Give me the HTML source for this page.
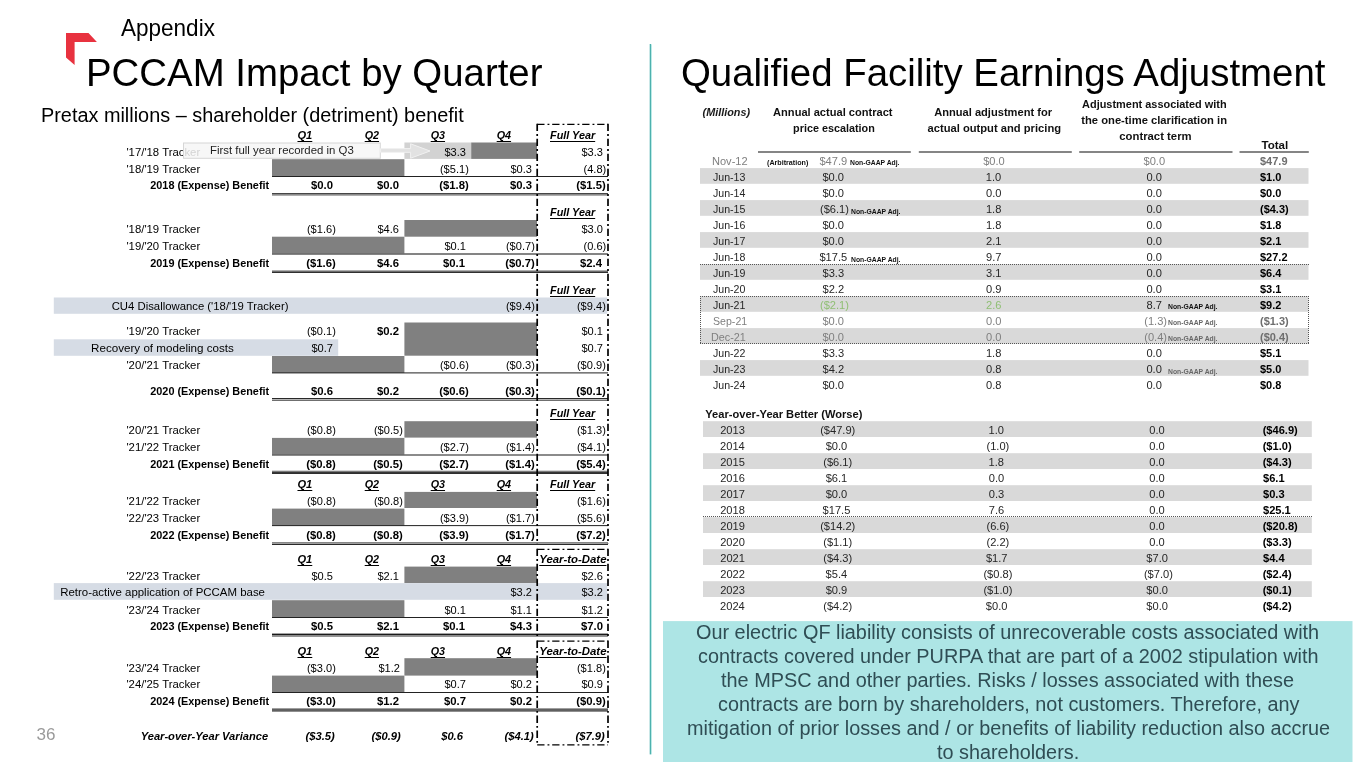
<!DOCTYPE html>
<html lang="en"><head><meta charset="utf-8"><title>PCCAM Impact by Quarter</title>
<style>
html,body{margin:0;padding:0;background:#fff}
body{width:1365px;height:768px;position:relative;overflow:hidden;font-family:"Liberation Sans",sans-serif}
#s{position:absolute;left:0;top:0;width:1365px;height:768px;overflow:hidden;background:#fff}
#s>*{position:absolute}
.t{line-height:20px;white-space:nowrap;display:block;color:#000}
</style></head>
<body><div id="s">
<svg style="left:0;top:0" width="1365" height="768" viewBox="0 0 1365 768">
<polygon points="66,33.1 88.5,33.1 96.9,41.9 74.6,41.9 74.6,65 66,57.5" fill="#e8323f"/>
<rect x="649.7" y="44" width="1.3" height="710.4" fill="#4db1ae"/>
<rect x="651" y="44.3" width="0.6" height="710.1" fill="#8fdcd8"/>
<rect x="404.4" y="142.5" width="66.8" height="16.4" fill="#d2d2d2"/>
<rect x="471.2" y="142.5" width="65.8" height="16.4" fill="#808080"/>
<rect x="272" y="159.2" width="132.4" height="17" fill="#808080"/>
<rect x="272" y="176" width="336" height="1" fill="#222"/>
<rect x="272" y="193.2" width="336" height="1.2" fill="#1a1a1a"/>
<rect x="272" y="194.4" width="336" height="1.2" fill="#7a7a7a"/>
<rect x="404.4" y="220" width="132.6" height="16.7" fill="#808080"/>
<rect x="272" y="236.7" width="132.4" height="17.1" fill="#808080"/>
<rect x="272" y="253.2" width="336" height="1.6" fill="#666"/>
<rect x="272" y="270.4" width="336" height="1.12" fill="#7a7a7a"/>
<rect x="272" y="271.52" width="336" height="1.38" fill="#1a1a1a"/>
<rect x="53.8" y="297.5" width="553.4" height="16.3" fill="#d6dce5"/>
<rect x="404.4" y="322.5" width="132.6" height="33.2" fill="#808080"/>
<rect x="53.8" y="339.3" width="284.4" height="16.5" fill="#d6dce5"/>
<rect x="272" y="356" width="132.4" height="17" fill="#808080"/>
<rect x="272" y="372.4" width="336" height="1" fill="#222"/>
<rect x="272" y="398.1" width="336" height="0.9" fill="#111"/>
<rect x="272" y="399.7" width="336" height="0.9" fill="#111"/>
<rect x="404.4" y="421.2" width="132.6" height="16.4" fill="#808080"/>
<rect x="272" y="437.9" width="132.4" height="17.1" fill="#808080"/>
<rect x="272" y="454.25" width="336" height="1.5" fill="#666"/>
<rect x="272" y="470.7" width="336" height="1.44" fill="#7a7a7a"/>
<rect x="272" y="472.14" width="336" height="1.76" fill="#1a1a1a"/>
<rect x="404.4" y="491.9" width="132.6" height="16.1" fill="#808080"/>
<rect x="272" y="508.6" width="132.4" height="17" fill="#808080"/>
<rect x="272" y="525.1" width="336" height="1" fill="#222"/>
<rect x="272" y="542.5" width="336" height="0.9" fill="#111"/>
<rect x="272" y="544.1" width="336" height="0.9" fill="#111"/>
<rect x="404.4" y="566.6" width="132.6" height="16.4" fill="#808080"/>
<rect x="53.8" y="583.1" width="553.4" height="16.7" fill="#d6dce5"/>
<rect x="272" y="600.2" width="132.4" height="17.1" fill="#808080"/>
<rect x="272" y="617" width="336" height="1" fill="#222"/>
<rect x="272" y="633.6" width="336" height="1.6" fill="#1a1a1a"/>
<rect x="272" y="635.2" width="336" height="1.6" fill="#7a7a7a"/>
<rect x="404.4" y="658.2" width="132.6" height="17.4" fill="#808080"/>
<rect x="272" y="675.6" width="132.4" height="16.7" fill="#808080"/>
<rect x="272" y="692" width="336" height="1" fill="#222"/>
<rect x="272" y="708.4" width="336" height="3.3" fill="#606060"/>
<rect x="758" y="151.35" width="152.8" height="1.3" fill="#444"/>
<rect x="918.8" y="151.35" width="153" height="1.3" fill="#444"/>
<rect x="1079.2" y="151.35" width="153.3" height="1.3" fill="#444"/>
<rect x="1239.5" y="151.35" width="69.3" height="1.3" fill="#444"/>
<rect x="700" y="168.1" width="608.5" height="15.7" fill="#d9d9d9"/>
<rect x="700" y="200.1" width="608.5" height="15.7" fill="#d9d9d9"/>
<rect x="700" y="232.1" width="608.5" height="15.7" fill="#d9d9d9"/>
<rect x="700" y="264.1" width="608.5" height="15.7" fill="#d9d9d9"/>
<rect x="700" y="296.1" width="608.5" height="15.7" fill="#d9d9d9"/>
<rect x="700" y="328.1" width="608.5" height="15.7" fill="#d9d9d9"/>
<rect x="700" y="360.1" width="608.5" height="15.7" fill="#d9d9d9"/>
<rect x="703" y="421.2" width="608.8" height="15.8" fill="#d9d9d9"/>
<rect x="703" y="453.2" width="608.8" height="15.8" fill="#d9d9d9"/>
<rect x="703" y="485.2" width="608.8" height="15.8" fill="#d9d9d9"/>
<rect x="703" y="517.2" width="608.8" height="15.8" fill="#d9d9d9"/>
<rect x="703" y="549.2" width="608.8" height="15.8" fill="#d9d9d9"/>
<rect x="703" y="581.2" width="608.8" height="15.8" fill="#d9d9d9"/>
<rect x="663" y="621.1" width="689.5" height="140.9" fill="#ade5e5"/>
</svg>
<span class="t" style="top:18px;font-size:23.4px;left:121.2px;transform-origin:0 0;transform:scaleX(0.9626);">Appendix</span>
<span class="t" style="top:63px;font-size:37.9px;left:85.63px;transform-origin:0 0;transform:scaleX(1.0131);">PCCAM Impact by Quarter</span>
<span class="t" style="top:105px;font-size:19.91px;left:41.41px;transform-origin:0 0;transform:scaleX(0.9976);">Pretax millions – shareholder (detriment) benefit</span>
<span class="t" style="top:63px;font-size:37.9px;left:680.87px;transform-origin:0 0;transform:scaleX(1.0132);">Qualified Facility Earnings Adjustment</span>
<span class="t" style="top:725px;font-size:17.07px;color:#9a9a9a;left:36.52px;transform-origin:0 0;">36</span>
<span class="t" style="top:125px;font-size:11.8px;font-weight:bold;font-style:italic;text-decoration:underline;text-underline-offset:2px;text-decoration-thickness:1px;left:296.92px;transform-origin:50% 0;transform:scaleX(0.9401);">Q1</span>
<span class="t" style="top:125px;font-size:11.8px;font-weight:bold;font-style:italic;text-decoration:underline;text-underline-offset:2px;text-decoration-thickness:1px;left:363.71px;transform-origin:50% 0;transform:scaleX(0.9106);">Q2</span>
<span class="t" style="top:125px;font-size:11.8px;font-weight:bold;font-style:italic;text-decoration:underline;text-underline-offset:2px;text-decoration-thickness:1px;left:429.91px;transform-origin:50% 0;transform:scaleX(0.9106);">Q3</span>
<span class="t" style="top:125px;font-size:11.8px;font-weight:bold;font-style:italic;text-decoration:underline;text-underline-offset:2px;text-decoration-thickness:1px;left:496.34px;transform-origin:50% 0;transform:scaleX(0.9142);">Q4</span>
<span class="t" style="top:125px;font-size:11.8px;font-weight:bold;font-style:italic;text-decoration:underline;text-underline-offset:2px;text-decoration-thickness:1px;left:547.77px;transform-origin:50% 0;transform:scaleX(0.9181);">Full Year</span>
<span class="t" style="top:142px;font-size:11.8px;left:124.85px;transform-origin:50% 0;transform:scaleX(0.9630);">'17/'18 Tracker</span>
<span class="t" style="top:142px;font-size:11.8px;right:899.44px;transform-origin:100% 0;transform:scaleX(0.9370);">$3.3</span>
<span class="t" style="top:142px;font-size:11.8px;right:762.39px;transform-origin:100% 0;transform:scaleX(0.9370);">$3.3</span>
<span class="t" style="top:159px;font-size:11.8px;left:124.85px;transform-origin:50% 0;transform:scaleX(0.9630);">'18/'19 Tracker</span>
<span class="t" style="top:159px;font-size:11.8px;right:896.11px;transform-origin:100% 0;transform:scaleX(0.9370);">($5.1)</span>
<span class="t" style="top:159px;font-size:11.8px;right:833.04px;transform-origin:100% 0;transform:scaleX(0.9370);">$0.3</span>
<span class="t" style="top:159px;font-size:11.8px;right:759.07px;transform-origin:100% 0;transform:scaleX(0.9370);">(4.8)</span>
<span class="t" style="top:175px;font-size:11.8px;font-weight:bold;right:1095.45px;transform-origin:100% 0;transform:scaleX(0.9205);">2018 (Expense) Benefit</span>
<span class="t" style="top:175px;font-size:11.8px;font-weight:bold;right:1032.13px;transform-origin:100% 0;transform:scaleX(0.9600);">$0.0</span>
<span class="t" style="top:175px;font-size:11.8px;font-weight:bold;right:965.63px;transform-origin:100% 0;transform:scaleX(0.9600);">$0.0</span>
<span class="t" style="top:175px;font-size:11.8px;font-weight:bold;right:896.26px;transform-origin:100% 0;transform:scaleX(0.9600);">($1.8)</span>
<span class="t" style="top:175px;font-size:11.8px;font-weight:bold;right:833.09px;transform-origin:100% 0;transform:scaleX(0.9600);">$0.3</span>
<span class="t" style="top:175px;font-size:11.8px;font-weight:bold;right:759.21px;transform-origin:100% 0;transform:scaleX(0.9600);">($1.5)</span>
<svg style="left:180px;top:140px" width="260" height="24" viewBox="180 140 260 24"><rect x="183.5" y="143" width="196.8" height="15.3" fill="#f6f6f6" fill-opacity="0.85" stroke="#d6d6d6" stroke-width="1"/><polygon points="380.6,148.6 410.6,148.6 410.6,143.8 430,151 410.6,158.2 410.6,152.3 380.6,152.3" fill="#e2e2e2" stroke="#f1f1f1" stroke-width="1"/></svg>
<span class="t" style="top:140px;font-size:11.8px;color:#222;left:209.69px;transform-origin:0 0;transform:scaleX(0.9658);">First full year recorded in Q3</span>
<span class="t" style="top:202px;font-size:11.8px;font-weight:bold;font-style:italic;text-decoration:underline;text-underline-offset:2px;text-decoration-thickness:1px;left:547.77px;transform-origin:50% 0;transform:scaleX(0.9181);">Full Year</span>
<span class="t" style="top:219px;font-size:11.8px;left:124.85px;transform-origin:50% 0;transform:scaleX(0.9630);">'18/'19 Tracker</span>
<span class="t" style="top:219px;font-size:11.8px;right:1028.81px;transform-origin:100% 0;transform:scaleX(0.9370);">($1.6)</span>
<span class="t" style="top:219px;font-size:11.8px;right:965.64px;transform-origin:100% 0;transform:scaleX(0.9370);">$4.6</span>
<span class="t" style="top:219px;font-size:11.8px;right:762.45px;transform-origin:100% 0;transform:scaleX(0.9370);">$3.0</span>
<span class="t" style="top:236px;font-size:11.8px;left:124.85px;transform-origin:50% 0;transform:scaleX(0.9630);">'19/'20 Tracker</span>
<span class="t" style="top:236px;font-size:11.8px;right:899.39px;transform-origin:100% 0;transform:scaleX(0.9370);">$0.1</span>
<span class="t" style="top:236px;font-size:11.8px;right:829.71px;transform-origin:100% 0;transform:scaleX(0.9370);">($0.7)</span>
<span class="t" style="top:236px;font-size:11.8px;right:759.07px;transform-origin:100% 0;transform:scaleX(0.9370);">(0.6)</span>
<span class="t" style="top:253px;font-size:11.8px;font-weight:bold;right:1095.45px;transform-origin:100% 0;transform:scaleX(0.9205);">2019 (Expense) Benefit</span>
<span class="t" style="top:253px;font-size:11.8px;font-weight:bold;right:1028.96px;transform-origin:100% 0;transform:scaleX(0.9600);">($1.6)</span>
<span class="t" style="top:253px;font-size:11.8px;font-weight:bold;right:965.69px;transform-origin:100% 0;transform:scaleX(0.9600);">$4.6</span>
<span class="t" style="top:253px;font-size:11.8px;font-weight:bold;right:899.6px;transform-origin:100% 0;transform:scaleX(0.9600);">$0.1</span>
<span class="t" style="top:253px;font-size:11.8px;font-weight:bold;right:829.86px;transform-origin:100% 0;transform:scaleX(0.9600);">($0.7)</span>
<span class="t" style="top:253px;font-size:11.8px;font-weight:bold;right:762.78px;transform-origin:100% 0;transform:scaleX(0.9600);">$2.4</span>
<span class="t" style="top:280px;font-size:11.8px;font-weight:bold;font-style:italic;text-decoration:underline;text-underline-offset:2px;text-decoration-thickness:1px;left:547.77px;transform-origin:50% 0;transform:scaleX(0.9181);">Full Year</span>
<span class="t" style="top:296px;font-size:11.8px;left:107.79px;transform-origin:50% 0;transform:scaleX(0.9599);">CU4 Disallowance ('18/'19 Tracker)</span>
<span class="t" style="top:296px;font-size:11.8px;right:829.71px;transform-origin:100% 0;transform:scaleX(0.9370);">($9.4)</span>
<span class="t" style="top:296px;font-size:11.8px;right:759.06px;transform-origin:100% 0;transform:scaleX(0.9370);">($9.4)</span>
<span class="t" style="top:321px;font-size:11.8px;left:124.85px;transform-origin:50% 0;transform:scaleX(0.9630);">'19/'20 Tracker</span>
<span class="t" style="top:321px;font-size:11.8px;right:1028.81px;transform-origin:100% 0;transform:scaleX(0.9370);">($0.1)</span>
<span class="t" style="top:321px;font-size:11.8px;font-weight:bold;right:965.63px;transform-origin:100% 0;transform:scaleX(0.9600);">$0.2</span>
<span class="t" style="top:321px;font-size:11.8px;right:762.34px;transform-origin:100% 0;transform:scaleX(0.9370);">$0.1</span>
<span class="t" style="top:338px;font-size:11.8px;left:89.76px;transform-origin:50% 0;transform:scaleX(0.9853);">Recovery of modeling costs</span>
<span class="t" style="top:338px;font-size:11.8px;right:1032.03px;transform-origin:100% 0;transform:scaleX(0.9370);">$0.7</span>
<span class="t" style="top:338px;font-size:11.8px;right:762.28px;transform-origin:100% 0;transform:scaleX(0.9370);">$0.7</span>
<span class="t" style="top:355px;font-size:11.8px;left:124.85px;transform-origin:50% 0;transform:scaleX(0.9630);">'20/'21 Tracker</span>
<span class="t" style="top:355px;font-size:11.8px;right:896.11px;transform-origin:100% 0;transform:scaleX(0.9370);">($0.6)</span>
<span class="t" style="top:355px;font-size:11.8px;right:829.71px;transform-origin:100% 0;transform:scaleX(0.9370);">($0.3)</span>
<span class="t" style="top:355px;font-size:11.8px;right:759.06px;transform-origin:100% 0;transform:scaleX(0.9370);">($0.9)</span>
<span class="t" style="top:381px;font-size:11.8px;font-weight:bold;right:1095.45px;transform-origin:100% 0;transform:scaleX(0.9205);">2020 (Expense) Benefit</span>
<span class="t" style="top:381px;font-size:11.8px;font-weight:bold;right:1032.19px;transform-origin:100% 0;transform:scaleX(0.9600);">$0.6</span>
<span class="t" style="top:381px;font-size:11.8px;font-weight:bold;right:965.63px;transform-origin:100% 0;transform:scaleX(0.9600);">$0.2</span>
<span class="t" style="top:381px;font-size:11.8px;font-weight:bold;right:896.26px;transform-origin:100% 0;transform:scaleX(0.9600);">($0.6)</span>
<span class="t" style="top:381px;font-size:11.8px;font-weight:bold;right:829.86px;transform-origin:100% 0;transform:scaleX(0.9600);">($0.3)</span>
<span class="t" style="top:381px;font-size:11.8px;font-weight:bold;right:759.21px;transform-origin:100% 0;transform:scaleX(0.9600);">($0.1)</span>
<span class="t" style="top:403px;font-size:11.8px;font-weight:bold;font-style:italic;text-decoration:underline;text-underline-offset:2px;text-decoration-thickness:1px;left:547.77px;transform-origin:50% 0;transform:scaleX(0.9181);">Full Year</span>
<span class="t" style="top:420px;font-size:11.8px;left:124.85px;transform-origin:50% 0;transform:scaleX(0.9630);">'20/'21 Tracker</span>
<span class="t" style="top:420px;font-size:11.8px;right:1028.81px;transform-origin:100% 0;transform:scaleX(0.9370);">($0.8)</span>
<span class="t" style="top:420px;font-size:11.8px;right:962.31px;transform-origin:100% 0;transform:scaleX(0.9370);">($0.5)</span>
<span class="t" style="top:420px;font-size:11.8px;right:759.06px;transform-origin:100% 0;transform:scaleX(0.9370);">($1.3)</span>
<span class="t" style="top:437px;font-size:11.8px;left:124.85px;transform-origin:50% 0;transform:scaleX(0.9630);">'21/'22 Tracker</span>
<span class="t" style="top:437px;font-size:11.8px;right:896.11px;transform-origin:100% 0;transform:scaleX(0.9370);">($2.7)</span>
<span class="t" style="top:437px;font-size:11.8px;right:829.71px;transform-origin:100% 0;transform:scaleX(0.9370);">($1.4)</span>
<span class="t" style="top:437px;font-size:11.8px;right:759.06px;transform-origin:100% 0;transform:scaleX(0.9370);">($4.1)</span>
<span class="t" style="top:454px;font-size:11.8px;font-weight:bold;right:1095.45px;transform-origin:100% 0;transform:scaleX(0.9205);">2021 (Expense) Benefit</span>
<span class="t" style="top:454px;font-size:11.8px;font-weight:bold;right:1028.96px;transform-origin:100% 0;transform:scaleX(0.9600);">($0.8)</span>
<span class="t" style="top:454px;font-size:11.8px;font-weight:bold;right:962.46px;transform-origin:100% 0;transform:scaleX(0.9600);">($0.5)</span>
<span class="t" style="top:454px;font-size:11.8px;font-weight:bold;right:896.26px;transform-origin:100% 0;transform:scaleX(0.9600);">($2.7)</span>
<span class="t" style="top:454px;font-size:11.8px;font-weight:bold;right:829.86px;transform-origin:100% 0;transform:scaleX(0.9600);">($1.4)</span>
<span class="t" style="top:454px;font-size:11.8px;font-weight:bold;right:759.21px;transform-origin:100% 0;transform:scaleX(0.9600);">($5.4)</span>
<span class="t" style="top:474px;font-size:11.8px;font-weight:bold;font-style:italic;text-decoration:underline;text-underline-offset:2px;text-decoration-thickness:1px;left:296.92px;transform-origin:50% 0;transform:scaleX(0.9401);">Q1</span>
<span class="t" style="top:474px;font-size:11.8px;font-weight:bold;font-style:italic;text-decoration:underline;text-underline-offset:2px;text-decoration-thickness:1px;left:363.71px;transform-origin:50% 0;transform:scaleX(0.9106);">Q2</span>
<span class="t" style="top:474px;font-size:11.8px;font-weight:bold;font-style:italic;text-decoration:underline;text-underline-offset:2px;text-decoration-thickness:1px;left:429.91px;transform-origin:50% 0;transform:scaleX(0.9106);">Q3</span>
<span class="t" style="top:474px;font-size:11.8px;font-weight:bold;font-style:italic;text-decoration:underline;text-underline-offset:2px;text-decoration-thickness:1px;left:496.34px;transform-origin:50% 0;transform:scaleX(0.9142);">Q4</span>
<span class="t" style="top:474px;font-size:11.8px;font-weight:bold;font-style:italic;text-decoration:underline;text-underline-offset:2px;text-decoration-thickness:1px;left:547.77px;transform-origin:50% 0;transform:scaleX(0.9181);">Full Year</span>
<span class="t" style="top:491px;font-size:11.8px;left:124.85px;transform-origin:50% 0;transform:scaleX(0.9630);">'21/'22 Tracker</span>
<span class="t" style="top:491px;font-size:11.8px;right:1028.81px;transform-origin:100% 0;transform:scaleX(0.9370);">($0.8)</span>
<span class="t" style="top:491px;font-size:11.8px;right:962.31px;transform-origin:100% 0;transform:scaleX(0.9370);">($0.8)</span>
<span class="t" style="top:491px;font-size:11.8px;right:759.06px;transform-origin:100% 0;transform:scaleX(0.9370);">($1.6)</span>
<span class="t" style="top:508px;font-size:11.8px;left:124.85px;transform-origin:50% 0;transform:scaleX(0.9630);">'22/'23 Tracker</span>
<span class="t" style="top:508px;font-size:11.8px;right:896.11px;transform-origin:100% 0;transform:scaleX(0.9370);">($3.9)</span>
<span class="t" style="top:508px;font-size:11.8px;right:829.71px;transform-origin:100% 0;transform:scaleX(0.9370);">($1.7)</span>
<span class="t" style="top:508px;font-size:11.8px;right:759.06px;transform-origin:100% 0;transform:scaleX(0.9370);">($5.6)</span>
<span class="t" style="top:525px;font-size:11.8px;font-weight:bold;right:1095.45px;transform-origin:100% 0;transform:scaleX(0.9205);">2022 (Expense) Benefit</span>
<span class="t" style="top:525px;font-size:11.8px;font-weight:bold;right:1028.96px;transform-origin:100% 0;transform:scaleX(0.9600);">($0.8)</span>
<span class="t" style="top:525px;font-size:11.8px;font-weight:bold;right:962.46px;transform-origin:100% 0;transform:scaleX(0.9600);">($0.8)</span>
<span class="t" style="top:525px;font-size:11.8px;font-weight:bold;right:896.26px;transform-origin:100% 0;transform:scaleX(0.9600);">($3.9)</span>
<span class="t" style="top:525px;font-size:11.8px;font-weight:bold;right:829.86px;transform-origin:100% 0;transform:scaleX(0.9600);">($1.7)</span>
<span class="t" style="top:525px;font-size:11.8px;font-weight:bold;right:759.21px;transform-origin:100% 0;transform:scaleX(0.9600);">($7.2)</span>
<span class="t" style="top:549px;font-size:11.8px;font-weight:bold;font-style:italic;text-decoration:underline;text-underline-offset:2px;text-decoration-thickness:1px;left:296.92px;transform-origin:50% 0;transform:scaleX(0.9401);">Q1</span>
<span class="t" style="top:549px;font-size:11.8px;font-weight:bold;font-style:italic;text-decoration:underline;text-underline-offset:2px;text-decoration-thickness:1px;left:363.71px;transform-origin:50% 0;transform:scaleX(0.9106);">Q2</span>
<span class="t" style="top:549px;font-size:11.8px;font-weight:bold;font-style:italic;text-decoration:underline;text-underline-offset:2px;text-decoration-thickness:1px;left:429.91px;transform-origin:50% 0;transform:scaleX(0.9106);">Q3</span>
<span class="t" style="top:549px;font-size:11.8px;font-weight:bold;font-style:italic;text-decoration:underline;text-underline-offset:2px;text-decoration-thickness:1px;left:496.34px;transform-origin:50% 0;transform:scaleX(0.9142);">Q4</span>
<span class="t" style="top:549px;font-size:11.8px;font-weight:bold;font-style:italic;text-decoration:underline;text-underline-offset:2px;text-decoration-thickness:1px;left:537.79px;transform-origin:50% 0;transform:scaleX(0.9643);">Year-to-Date</span>
<span class="t" style="top:566px;font-size:11.8px;left:124.85px;transform-origin:50% 0;transform:scaleX(0.9630);">'22/'23 Tracker</span>
<span class="t" style="top:566px;font-size:11.8px;right:1032.14px;transform-origin:100% 0;transform:scaleX(0.9370);">$0.5</span>
<span class="t" style="top:566px;font-size:11.8px;right:965.59px;transform-origin:100% 0;transform:scaleX(0.9370);">$2.1</span>
<span class="t" style="top:566px;font-size:11.8px;right:762.39px;transform-origin:100% 0;transform:scaleX(0.9370);">$2.6</span>
<span class="t" style="top:582px;font-size:11.8px;left:56.69px;transform-origin:50% 0;transform:scaleX(0.9702);">Retro-active application of PCCAM base</span>
<span class="t" style="top:582px;font-size:11.8px;right:832.93px;transform-origin:100% 0;transform:scaleX(0.9370);">$3.2</span>
<span class="t" style="top:582px;font-size:11.8px;right:762.28px;transform-origin:100% 0;transform:scaleX(0.9370);">$3.2</span>
<span class="t" style="top:600px;font-size:11.8px;left:124.85px;transform-origin:50% 0;transform:scaleX(0.9630);">'23/'24 Tracker</span>
<span class="t" style="top:600px;font-size:11.8px;right:899.39px;transform-origin:100% 0;transform:scaleX(0.9370);">$0.1</span>
<span class="t" style="top:600px;font-size:11.8px;right:832.99px;transform-origin:100% 0;transform:scaleX(0.9370);">$1.1</span>
<span class="t" style="top:600px;font-size:11.8px;right:762.28px;transform-origin:100% 0;transform:scaleX(0.9370);">$1.2</span>
<span class="t" style="top:616px;font-size:11.8px;font-weight:bold;right:1095.45px;transform-origin:100% 0;transform:scaleX(0.9205);">2023 (Expense) Benefit</span>
<span class="t" style="top:616px;font-size:11.8px;font-weight:bold;right:1032.3px;transform-origin:100% 0;transform:scaleX(0.9600);">$0.5</span>
<span class="t" style="top:616px;font-size:11.8px;font-weight:bold;right:965.8px;transform-origin:100% 0;transform:scaleX(0.9600);">$2.1</span>
<span class="t" style="top:616px;font-size:11.8px;font-weight:bold;right:899.6px;transform-origin:100% 0;transform:scaleX(0.9600);">$0.1</span>
<span class="t" style="top:616px;font-size:11.8px;font-weight:bold;right:833.09px;transform-origin:100% 0;transform:scaleX(0.9600);">$4.3</span>
<span class="t" style="top:616px;font-size:11.8px;font-weight:bold;right:762.38px;transform-origin:100% 0;transform:scaleX(0.9600);">$7.0</span>
<span class="t" style="top:641px;font-size:11.8px;font-weight:bold;font-style:italic;text-decoration:underline;text-underline-offset:2px;text-decoration-thickness:1px;left:296.92px;transform-origin:50% 0;transform:scaleX(0.9401);">Q1</span>
<span class="t" style="top:641px;font-size:11.8px;font-weight:bold;font-style:italic;text-decoration:underline;text-underline-offset:2px;text-decoration-thickness:1px;left:363.71px;transform-origin:50% 0;transform:scaleX(0.9106);">Q2</span>
<span class="t" style="top:641px;font-size:11.8px;font-weight:bold;font-style:italic;text-decoration:underline;text-underline-offset:2px;text-decoration-thickness:1px;left:429.91px;transform-origin:50% 0;transform:scaleX(0.9106);">Q3</span>
<span class="t" style="top:641px;font-size:11.8px;font-weight:bold;font-style:italic;text-decoration:underline;text-underline-offset:2px;text-decoration-thickness:1px;left:496.34px;transform-origin:50% 0;transform:scaleX(0.9142);">Q4</span>
<span class="t" style="top:641px;font-size:11.8px;font-weight:bold;font-style:italic;text-decoration:underline;text-underline-offset:2px;text-decoration-thickness:1px;left:537.79px;transform-origin:50% 0;transform:scaleX(0.9643);">Year-to-Date</span>
<span class="t" style="top:658px;font-size:11.8px;left:124.85px;transform-origin:50% 0;transform:scaleX(0.9630);">'23/'24 Tracker</span>
<span class="t" style="top:658px;font-size:11.8px;right:1028.81px;transform-origin:100% 0;transform:scaleX(0.9370);">($3.0)</span>
<span class="t" style="top:658px;font-size:11.8px;right:965.53px;transform-origin:100% 0;transform:scaleX(0.9370);">$1.2</span>
<span class="t" style="top:658px;font-size:11.8px;right:759.06px;transform-origin:100% 0;transform:scaleX(0.9370);">($1.8)</span>
<span class="t" style="top:674px;font-size:11.8px;left:124.85px;transform-origin:50% 0;transform:scaleX(0.9630);">'24/'25 Tracker</span>
<span class="t" style="top:674px;font-size:11.8px;right:899.33px;transform-origin:100% 0;transform:scaleX(0.9370);">$0.7</span>
<span class="t" style="top:674px;font-size:11.8px;right:832.93px;transform-origin:100% 0;transform:scaleX(0.9370);">$0.2</span>
<span class="t" style="top:674px;font-size:11.8px;right:762.34px;transform-origin:100% 0;transform:scaleX(0.9370);">$0.9</span>
<span class="t" style="top:691px;font-size:11.8px;font-weight:bold;right:1095.45px;transform-origin:100% 0;transform:scaleX(0.9205);">2024 (Expense) Benefit</span>
<span class="t" style="top:691px;font-size:11.8px;font-weight:bold;right:1028.96px;transform-origin:100% 0;transform:scaleX(0.9600);">($3.0)</span>
<span class="t" style="top:691px;font-size:11.8px;font-weight:bold;right:965.63px;transform-origin:100% 0;transform:scaleX(0.9600);">$1.2</span>
<span class="t" style="top:691px;font-size:11.8px;font-weight:bold;right:899.43px;transform-origin:100% 0;transform:scaleX(0.9600);">$0.7</span>
<span class="t" style="top:691px;font-size:11.8px;font-weight:bold;right:833.03px;transform-origin:100% 0;transform:scaleX(0.9600);">$0.2</span>
<span class="t" style="top:691px;font-size:11.8px;font-weight:bold;right:759.21px;transform-origin:100% 0;transform:scaleX(0.9600);">($0.9)</span>
<span class="t" style="top:726px;font-size:11.8px;font-weight:bold;font-style:italic;right:1096.71px;transform-origin:100% 0;transform:scaleX(0.9431);">Year-over-Year Variance</span>
<span class="t" style="top:726px;font-size:11.8px;font-weight:bold;font-style:italic;right:1030.49px;transform-origin:100% 0;transform:scaleX(0.9500);">($3.5)</span>
<span class="t" style="top:726px;font-size:11.8px;font-weight:bold;font-style:italic;right:964.19px;transform-origin:100% 0;transform:scaleX(0.9500);">($0.9)</span>
<span class="t" style="top:726px;font-size:11.8px;font-weight:bold;font-style:italic;right:901.64px;transform-origin:100% 0;transform:scaleX(0.9500);">$0.6</span>
<span class="t" style="top:726px;font-size:11.8px;font-weight:bold;font-style:italic;right:831.19px;transform-origin:100% 0;transform:scaleX(0.9500);">($4.1)</span>
<span class="t" style="top:726px;font-size:11.8px;font-weight:bold;font-style:italic;right:760.29px;transform-origin:100% 0;transform:scaleX(0.9500);">($7.9)</span>
<span class="t" style="top:102px;font-size:11.1px;color:#1a1a1a;font-weight:bold;font-style:italic;left:701.61px;transform-origin:50% 0;transform:scaleX(0.9769);">(Millions)</span>
<span class="t" style="top:102px;font-size:11.1px;color:#111;font-weight:bold;left:772.72px;transform-origin:50% 0;transform:scaleX(0.9982);">Annual actual contract</span>
<span class="t" style="top:118px;font-size:11.1px;color:#111;font-weight:bold;left:792.02px;transform-origin:50% 0;transform:scaleX(0.9742);">price escalation</span>
<span class="t" style="top:102px;font-size:11.1px;color:#111;font-weight:bold;left:934.26px;transform-origin:50% 0;">Annual adjustment for</span>
<span class="t" style="top:118px;font-size:11.1px;color:#111;font-weight:bold;left:928.4px;transform-origin:50% 0;transform:scaleX(1.0081);">actual output and pricing</span>
<span class="t" style="top:94px;font-size:11.1px;color:#111;font-weight:bold;left:1081.09px;transform-origin:50% 0;transform:scaleX(0.9852);">Adjustment associated with</span>
<span class="t" style="top:110px;font-size:11.1px;color:#111;font-weight:bold;left:1081.83px;transform-origin:50% 0;transform:scaleX(1.0103);">the one-time clarification in</span>
<span class="t" style="top:126px;font-size:11.1px;color:#111;font-weight:bold;left:1120.25px;transform-origin:50% 0;transform:scaleX(1.0198);">contract term</span>
<span class="t" style="top:135px;font-size:11.1px;color:#111;font-weight:bold;left:1261.6px;transform-origin:50% 0;transform:scaleX(1.0400);">Total</span>
<span class="t" style="top:151px;font-size:11.1px;color:#7f7f7f;left:711.52px;transform-origin:0 0;transform:scaleX(0.9960);">Nov-12</span>
<span class="t" style="top:151px;font-size:11.1px;color:#7f7f7f;left:819.42px;transform-origin:50% 0;">$47.9</span>
<span class="t" style="top:151px;font-size:11.1px;color:#7f7f7f;left:983.14px;transform-origin:50% 0;">$0.0</span>
<span class="t" style="top:151px;font-size:11.1px;color:#7f7f7f;left:1143.54px;transform-origin:50% 0;">$0.0</span>
<span class="t" style="top:151px;font-size:11.1px;color:#6e6e6e;font-weight:bold;left:1260.24px;transform-origin:0 0;transform:scaleX(0.9900);">$47.9</span>
<span class="t" style="top:167px;font-size:11.1px;color:#262626;left:713.14px;transform-origin:0 0;transform:scaleX(0.9550);">Jun-13</span>
<span class="t" style="top:167px;font-size:11.1px;color:#262626;left:822.44px;transform-origin:50% 0;">$0.0</span>
<span class="t" style="top:167px;font-size:11.1px;color:#262626;left:985.86px;transform-origin:50% 0;">1.0</span>
<span class="t" style="top:167px;font-size:11.1px;color:#262626;left:1146.46px;transform-origin:50% 0;">0.0</span>
<span class="t" style="top:167px;font-size:11.1px;font-weight:bold;left:1260.24px;transform-origin:0 0;transform:scaleX(0.9900);">$1.0</span>
<span class="t" style="top:183px;font-size:11.1px;color:#262626;left:713.14px;transform-origin:0 0;transform:scaleX(0.9550);">Jun-14</span>
<span class="t" style="top:183px;font-size:11.1px;color:#262626;left:822.44px;transform-origin:50% 0;">$0.0</span>
<span class="t" style="top:183px;font-size:11.1px;color:#262626;left:986.06px;transform-origin:50% 0;">0.0</span>
<span class="t" style="top:183px;font-size:11.1px;color:#262626;left:1146.46px;transform-origin:50% 0;">0.0</span>
<span class="t" style="top:183px;font-size:11.1px;font-weight:bold;left:1260.24px;transform-origin:0 0;transform:scaleX(0.9900);">$0.0</span>
<span class="t" style="top:199px;font-size:11.1px;color:#262626;left:713.14px;transform-origin:0 0;transform:scaleX(0.9550);">Jun-15</span>
<span class="t" style="top:199px;font-size:11.1px;color:#262626;left:820.01px;transform-origin:50% 0;">($6.1)</span>
<span class="t" style="top:199px;font-size:11.1px;color:#262626;left:985.89px;transform-origin:50% 0;">1.8</span>
<span class="t" style="top:199px;font-size:11.1px;color:#262626;left:1146.46px;transform-origin:50% 0;">0.0</span>
<span class="t" style="top:199px;font-size:11.1px;font-weight:bold;left:1259.85px;transform-origin:0 0;transform:scaleX(0.9900);">($4.3)</span>
<span class="t" style="top:215px;font-size:11.1px;color:#262626;left:713.14px;transform-origin:0 0;transform:scaleX(0.9550);">Jun-16</span>
<span class="t" style="top:215px;font-size:11.1px;color:#262626;left:822.44px;transform-origin:50% 0;">$0.0</span>
<span class="t" style="top:215px;font-size:11.1px;color:#262626;left:985.89px;transform-origin:50% 0;">1.8</span>
<span class="t" style="top:215px;font-size:11.1px;color:#262626;left:1146.46px;transform-origin:50% 0;">0.0</span>
<span class="t" style="top:215px;font-size:11.1px;font-weight:bold;left:1260.24px;transform-origin:0 0;transform:scaleX(0.9900);">$1.8</span>
<span class="t" style="top:231px;font-size:11.1px;color:#262626;left:713.14px;transform-origin:0 0;transform:scaleX(0.9550);">Jun-17</span>
<span class="t" style="top:231px;font-size:11.1px;color:#262626;left:822.44px;transform-origin:50% 0;">$0.0</span>
<span class="t" style="top:231px;font-size:11.1px;color:#262626;left:986.06px;transform-origin:50% 0;">2.1</span>
<span class="t" style="top:231px;font-size:11.1px;color:#262626;left:1146.46px;transform-origin:50% 0;">0.0</span>
<span class="t" style="top:231px;font-size:11.1px;font-weight:bold;left:1260.24px;transform-origin:0 0;transform:scaleX(0.9900);">$2.1</span>
<span class="t" style="top:247px;font-size:11.1px;color:#262626;left:713.14px;transform-origin:0 0;transform:scaleX(0.9550);">Jun-18</span>
<span class="t" style="top:247px;font-size:11.1px;color:#262626;left:819.39px;transform-origin:50% 0;">$17.5</span>
<span class="t" style="top:247px;font-size:11.1px;color:#262626;left:986.11px;transform-origin:50% 0;">9.7</span>
<span class="t" style="top:247px;font-size:11.1px;color:#262626;left:1146.46px;transform-origin:50% 0;">0.0</span>
<span class="t" style="top:247px;font-size:11.1px;font-weight:bold;left:1260.24px;transform-origin:0 0;transform:scaleX(0.9900);">$27.2</span>
<span class="t" style="top:263px;font-size:11.1px;color:#262626;left:713.14px;transform-origin:0 0;transform:scaleX(0.9550);">Jun-19</span>
<span class="t" style="top:263px;font-size:11.1px;color:#262626;left:822.47px;transform-origin:50% 0;">$3.3</span>
<span class="t" style="top:263px;font-size:11.1px;color:#262626;left:986.11px;transform-origin:50% 0;">3.1</span>
<span class="t" style="top:263px;font-size:11.1px;color:#262626;left:1146.46px;transform-origin:50% 0;">0.0</span>
<span class="t" style="top:263px;font-size:11.1px;font-weight:bold;left:1260.24px;transform-origin:0 0;transform:scaleX(0.9900);">$6.4</span>
<span class="t" style="top:279px;font-size:11.1px;color:#262626;left:713.14px;transform-origin:0 0;transform:scaleX(0.9550);">Jun-20</span>
<span class="t" style="top:279px;font-size:11.1px;color:#262626;left:822.53px;transform-origin:50% 0;">$2.2</span>
<span class="t" style="top:279px;font-size:11.1px;color:#262626;left:986.11px;transform-origin:50% 0;">0.9</span>
<span class="t" style="top:279px;font-size:11.1px;color:#262626;left:1146.46px;transform-origin:50% 0;">0.0</span>
<span class="t" style="top:279px;font-size:11.1px;font-weight:bold;left:1260.24px;transform-origin:0 0;transform:scaleX(0.9900);">$3.1</span>
<span class="t" style="top:295px;font-size:11.1px;color:#262626;left:713.14px;transform-origin:0 0;transform:scaleX(0.9550);">Jun-21</span>
<span class="t" style="top:295px;font-size:11.1px;color:#8fbf73;left:820.01px;transform-origin:50% 0;">($2.1)</span>
<span class="t" style="top:295px;font-size:11.1px;color:#8fbf73;left:986.03px;transform-origin:50% 0;">2.6</span>
<span class="t" style="top:295px;font-size:11.1px;color:#262626;left:1146.54px;transform-origin:50% 0;">8.7</span>
<span class="t" style="top:295px;font-size:11.1px;font-weight:bold;left:1260.24px;transform-origin:0 0;transform:scaleX(0.9900);">$9.2</span>
<span class="t" style="top:311px;font-size:11.1px;color:#7f7f7f;left:712.52px;transform-origin:0 0;transform:scaleX(0.9550);">Sep-21</span>
<span class="t" style="top:311px;font-size:11.1px;color:#7f7f7f;left:822.44px;transform-origin:50% 0;">$0.0</span>
<span class="t" style="top:311px;font-size:11.1px;color:#7f7f7f;left:986.06px;transform-origin:50% 0;">0.0</span>
<span class="t" style="top:311px;font-size:11.1px;color:#7f7f7f;left:1144.19px;transform-origin:50% 0;">(1.3)</span>
<span class="t" style="top:311px;font-size:11.1px;color:#6e6e6e;font-weight:bold;left:1259.85px;transform-origin:0 0;transform:scaleX(0.9900);">($1.3)</span>
<span class="t" style="top:327px;font-size:11.1px;color:#7f7f7f;left:711.23px;transform-origin:0 0;transform:scaleX(0.9750);">Dec-21</span>
<span class="t" style="top:327px;font-size:11.1px;color:#7f7f7f;left:822.44px;transform-origin:50% 0;">$0.0</span>
<span class="t" style="top:327px;font-size:11.1px;color:#7f7f7f;left:986.06px;transform-origin:50% 0;">0.0</span>
<span class="t" style="top:327px;font-size:11.1px;color:#7f7f7f;left:1144.19px;transform-origin:50% 0;">(0.4)</span>
<span class="t" style="top:327px;font-size:11.1px;color:#6e6e6e;font-weight:bold;left:1259.85px;transform-origin:0 0;transform:scaleX(0.9900);">($0.4)</span>
<span class="t" style="top:343px;font-size:11.1px;color:#262626;left:713.14px;transform-origin:0 0;transform:scaleX(0.9550);">Jun-22</span>
<span class="t" style="top:343px;font-size:11.1px;color:#262626;left:822.47px;transform-origin:50% 0;">$3.3</span>
<span class="t" style="top:343px;font-size:11.1px;color:#262626;left:985.89px;transform-origin:50% 0;">1.8</span>
<span class="t" style="top:343px;font-size:11.1px;color:#262626;left:1146.46px;transform-origin:50% 0;">0.0</span>
<span class="t" style="top:343px;font-size:11.1px;font-weight:bold;left:1260.24px;transform-origin:0 0;transform:scaleX(0.9900);">$5.1</span>
<span class="t" style="top:359px;font-size:11.1px;color:#262626;left:713.14px;transform-origin:0 0;transform:scaleX(0.9550);">Jun-23</span>
<span class="t" style="top:359px;font-size:11.1px;color:#262626;left:822.53px;transform-origin:50% 0;">$4.2</span>
<span class="t" style="top:359px;font-size:11.1px;color:#262626;left:986.09px;transform-origin:50% 0;">0.8</span>
<span class="t" style="top:359px;font-size:11.1px;color:#262626;left:1146.46px;transform-origin:50% 0;">0.0</span>
<span class="t" style="top:359px;font-size:11.1px;font-weight:bold;left:1260.24px;transform-origin:0 0;transform:scaleX(0.9900);">$5.0</span>
<span class="t" style="top:375px;font-size:11.1px;color:#262626;left:713.14px;transform-origin:0 0;transform:scaleX(0.9550);">Jun-24</span>
<span class="t" style="top:375px;font-size:11.1px;color:#262626;left:822.44px;transform-origin:50% 0;">$0.0</span>
<span class="t" style="top:375px;font-size:11.1px;color:#262626;left:986.09px;transform-origin:50% 0;">0.8</span>
<span class="t" style="top:375px;font-size:11.1px;color:#262626;left:1146.46px;transform-origin:50% 0;">0.0</span>
<span class="t" style="top:375px;font-size:11.1px;font-weight:bold;left:1260.24px;transform-origin:0 0;transform:scaleX(0.9900);">$0.8</span>
<span class="t" style="top:153px;font-size:7px;color:#111;font-weight:bold;left:766.54px;transform-origin:0 0;transform:scaleX(1.0211);">(Arbitration)</span>
<span class="t" style="top:153px;font-size:7px;color:#111;font-weight:bold;left:849.86px;transform-origin:0 0;transform:scaleX(0.9717);">Non-GAAP Adj.</span>
<span class="t" style="top:202px;font-size:7px;color:#111;font-weight:bold;left:851.46px;transform-origin:0 0;transform:scaleX(0.9717);">Non-GAAP Adj.</span>
<span class="t" style="top:250px;font-size:7px;color:#111;font-weight:bold;left:851.46px;transform-origin:0 0;transform:scaleX(0.9717);">Non-GAAP Adj.</span>
<span class="t" style="top:297px;font-size:7px;color:#111;font-weight:bold;left:1167.66px;transform-origin:0 0;transform:scaleX(0.9717);">Non-GAAP Adj.</span>
<span class="t" style="top:313px;font-size:7px;color:#666;font-weight:bold;left:1168.26px;transform-origin:0 0;transform:scaleX(0.9717);">Non-GAAP Adj.</span>
<span class="t" style="top:329px;font-size:7px;color:#666;font-weight:bold;left:1168.26px;transform-origin:0 0;transform:scaleX(0.9717);">Non-GAAP Adj.</span>
<span class="t" style="top:362px;font-size:7px;color:#666;font-weight:bold;left:1168.26px;transform-origin:0 0;transform:scaleX(0.9717);">Non-GAAP Adj.</span>
<span class="t" style="top:404px;font-size:11.1px;color:#111;font-weight:bold;left:705.33px;transform-origin:0 0;">Year-over-Year Better (Worse)</span>
<span class="t" style="top:420px;font-size:11.1px;color:#262626;left:720.2px;transform-origin:50% 0;">2013</span>
<span class="t" style="top:420px;font-size:11.1px;color:#262626;left:820.13px;transform-origin:50% 0;">($47.9)</span>
<span class="t" style="top:420px;font-size:11.1px;color:#262626;left:988.56px;transform-origin:50% 0;">1.0</span>
<span class="t" style="top:420px;font-size:11.1px;color:#262626;left:1149.26px;transform-origin:50% 0;">0.0</span>
<span class="t" style="top:420px;font-size:11.1px;font-weight:bold;left:1262.64px;transform-origin:0 0;">($46.9)</span>
<span class="t" style="top:436px;font-size:11.1px;color:#262626;left:720.11px;transform-origin:50% 0;">2014</span>
<span class="t" style="top:436px;font-size:11.1px;color:#262626;left:825.64px;transform-origin:50% 0;">$0.0</span>
<span class="t" style="top:436px;font-size:11.1px;color:#262626;left:986.49px;transform-origin:50% 0;">(1.0)</span>
<span class="t" style="top:436px;font-size:11.1px;color:#262626;left:1149.26px;transform-origin:50% 0;">0.0</span>
<span class="t" style="top:436px;font-size:11.1px;font-weight:bold;left:1262.64px;transform-origin:0 0;">($1.0)</span>
<span class="t" style="top:452px;font-size:11.1px;color:#262626;left:720.2px;transform-origin:50% 0;">2015</span>
<span class="t" style="top:452px;font-size:11.1px;color:#262626;left:823.21px;transform-origin:50% 0;">($6.1)</span>
<span class="t" style="top:452px;font-size:11.1px;color:#262626;left:988.59px;transform-origin:50% 0;">1.8</span>
<span class="t" style="top:452px;font-size:11.1px;color:#262626;left:1149.26px;transform-origin:50% 0;">0.0</span>
<span class="t" style="top:452px;font-size:11.1px;font-weight:bold;left:1262.64px;transform-origin:0 0;">($4.3)</span>
<span class="t" style="top:468px;font-size:11.1px;color:#262626;left:720.2px;transform-origin:50% 0;">2016</span>
<span class="t" style="top:468px;font-size:11.1px;color:#262626;left:825.7px;transform-origin:50% 0;">$6.1</span>
<span class="t" style="top:468px;font-size:11.1px;color:#262626;left:988.76px;transform-origin:50% 0;">0.0</span>
<span class="t" style="top:468px;font-size:11.1px;color:#262626;left:1149.26px;transform-origin:50% 0;">0.0</span>
<span class="t" style="top:468px;font-size:11.1px;font-weight:bold;left:1263.03px;transform-origin:0 0;">$6.1</span>
<span class="t" style="top:484px;font-size:11.1px;color:#262626;left:720.25px;transform-origin:50% 0;">2017</span>
<span class="t" style="top:484px;font-size:11.1px;color:#262626;left:825.64px;transform-origin:50% 0;">$0.0</span>
<span class="t" style="top:484px;font-size:11.1px;color:#262626;left:988.79px;transform-origin:50% 0;">0.3</span>
<span class="t" style="top:484px;font-size:11.1px;color:#262626;left:1149.26px;transform-origin:50% 0;">0.0</span>
<span class="t" style="top:484px;font-size:11.1px;font-weight:bold;left:1263.03px;transform-origin:0 0;">$0.3</span>
<span class="t" style="top:500px;font-size:11.1px;color:#262626;left:720.2px;transform-origin:50% 0;">2018</span>
<span class="t" style="top:500px;font-size:11.1px;color:#262626;left:822.59px;transform-origin:50% 0;">$17.5</span>
<span class="t" style="top:500px;font-size:11.1px;color:#262626;left:988.73px;transform-origin:50% 0;">7.6</span>
<span class="t" style="top:500px;font-size:11.1px;color:#262626;left:1149.26px;transform-origin:50% 0;">0.0</span>
<span class="t" style="top:500px;font-size:11.1px;font-weight:bold;left:1263.03px;transform-origin:0 0;">$25.1</span>
<span class="t" style="top:516px;font-size:11.1px;color:#262626;left:720.22px;transform-origin:50% 0;">2019</span>
<span class="t" style="top:516px;font-size:11.1px;color:#262626;left:820.13px;transform-origin:50% 0;">($14.2)</span>
<span class="t" style="top:516px;font-size:11.1px;color:#262626;left:986.49px;transform-origin:50% 0;">(6.6)</span>
<span class="t" style="top:516px;font-size:11.1px;color:#262626;left:1149.26px;transform-origin:50% 0;">0.0</span>
<span class="t" style="top:516px;font-size:11.1px;font-weight:bold;left:1262.64px;transform-origin:0 0;">($20.8)</span>
<span class="t" style="top:532px;font-size:11.1px;color:#262626;left:720.17px;transform-origin:50% 0;">2020</span>
<span class="t" style="top:532px;font-size:11.1px;color:#262626;left:823.21px;transform-origin:50% 0;">($1.1)</span>
<span class="t" style="top:532px;font-size:11.1px;color:#262626;left:986.49px;transform-origin:50% 0;">(2.2)</span>
<span class="t" style="top:532px;font-size:11.1px;color:#262626;left:1149.26px;transform-origin:50% 0;">0.0</span>
<span class="t" style="top:532px;font-size:11.1px;font-weight:bold;left:1262.64px;transform-origin:0 0;">($3.3)</span>
<span class="t" style="top:548px;font-size:11.1px;color:#262626;left:720.22px;transform-origin:50% 0;">2021</span>
<span class="t" style="top:548px;font-size:11.1px;color:#262626;left:823.21px;transform-origin:50% 0;">($4.3)</span>
<span class="t" style="top:548px;font-size:11.1px;color:#262626;left:985.93px;transform-origin:50% 0;">$1.7</span>
<span class="t" style="top:548px;font-size:11.1px;color:#262626;left:1146.34px;transform-origin:50% 0;">$7.0</span>
<span class="t" style="top:548px;font-size:11.1px;font-weight:bold;left:1263.03px;transform-origin:0 0;">$4.4</span>
<span class="t" style="top:564px;font-size:11.1px;color:#262626;left:720.25px;transform-origin:50% 0;">2022</span>
<span class="t" style="top:564px;font-size:11.1px;color:#262626;left:825.59px;transform-origin:50% 0;">$5.4</span>
<span class="t" style="top:564px;font-size:11.1px;color:#262626;left:983.41px;transform-origin:50% 0;">($0.8)</span>
<span class="t" style="top:564px;font-size:11.1px;color:#262626;left:1143.91px;transform-origin:50% 0;">($7.0)</span>
<span class="t" style="top:564px;font-size:11.1px;font-weight:bold;left:1262.64px;transform-origin:0 0;">($2.4)</span>
<span class="t" style="top:580px;font-size:11.1px;color:#262626;left:720.2px;transform-origin:50% 0;">2023</span>
<span class="t" style="top:580px;font-size:11.1px;color:#262626;left:825.7px;transform-origin:50% 0;">$0.9</span>
<span class="t" style="top:580px;font-size:11.1px;color:#262626;left:983.41px;transform-origin:50% 0;">($1.0)</span>
<span class="t" style="top:580px;font-size:11.1px;color:#262626;left:1146.34px;transform-origin:50% 0;">$0.0</span>
<span class="t" style="top:580px;font-size:11.1px;font-weight:bold;left:1262.64px;transform-origin:0 0;">($0.1)</span>
<span class="t" style="top:596px;font-size:11.1px;color:#262626;left:720.11px;transform-origin:50% 0;">2024</span>
<span class="t" style="top:596px;font-size:11.1px;color:#262626;left:823.21px;transform-origin:50% 0;">($4.2)</span>
<span class="t" style="top:596px;font-size:11.1px;color:#262626;left:985.84px;transform-origin:50% 0;">$0.0</span>
<span class="t" style="top:596px;font-size:11.1px;color:#262626;left:1146.34px;transform-origin:50% 0;">$0.0</span>
<span class="t" style="top:596px;font-size:11.1px;font-weight:bold;left:1262.64px;transform-origin:0 0;">($4.2)</span>
<span class="t" style="top:622px;font-size:19.91px;color:#2f4d54;left:695.61px;transform-origin:0 0;transform:scaleX(0.9968);">Our electric QF liability consists of unrecoverable costs associated with</span>
<span class="t" style="top:646px;font-size:19.91px;color:#2f4d54;left:697.51px;transform-origin:0 0;transform:scaleX(0.9966);">contracts covered under PURPA that are part of a 2002 stipulation with</span>
<span class="t" style="top:670px;font-size:19.91px;color:#2f4d54;left:721.2px;transform-origin:0 0;transform:scaleX(0.9979);">the MPSC and other parties. Risks / losses associated with these</span>
<span class="t" style="top:694px;font-size:19.91px;color:#2f4d54;left:717.61px;transform-origin:0 0;transform:scaleX(0.9958);">contracts are born by shareholders, not customers. Therefore, any</span>
<span class="t" style="top:718px;font-size:19.91px;color:#2f4d54;left:686.51px;transform-origin:0 0;transform:scaleX(0.9969);">mitigation of prior losses and / or benefits of liability reduction also accrue</span>
<span class="t" style="top:742px;font-size:19.91px;color:#2f4d54;left:936.6px;transform-origin:0 0;transform:scaleX(0.9960);">to shareholders.</span>
<svg style="left:0;top:0" width="1365" height="768" viewBox="0 0 1365 768">
<g fill="none" stroke="#000" stroke-dasharray="7.3 3 1.9 2.8"><line x1="537.2" y1="123.7" x2="537.2" y2="544" stroke-width="1.7"/><line x1="608" y1="123.7" x2="608" y2="544" stroke-width="1.7"/><line x1="537.2" y1="124.3" x2="608" y2="124.3" stroke-width="1.3"/></g>
<g fill="none" stroke="#000" stroke-dasharray="7.3 3 1.9 2.8"><line x1="537.2" y1="548.8" x2="537.2" y2="636" stroke-width="1.7"/><line x1="608" y1="548.8" x2="608" y2="636" stroke-width="1.7"/><line x1="537.2" y1="549.4" x2="608" y2="549.4" stroke-width="1.3"/></g>
<g fill="none" stroke="#000" stroke-dasharray="7.3 3 1.9 2.8"><line x1="537.2" y1="640.6" x2="537.2" y2="744.9" stroke-width="1.7"/><line x1="608" y1="640.6" x2="608" y2="744.9" stroke-width="1.7"/><line x1="537.2" y1="641.2" x2="608" y2="641.2" stroke-width="1.3"/><line x1="537.2" y1="744.9" x2="608" y2="744.9" stroke-width="1.3"/></g>
<line x1="700" y1="264.5" x2="1309" y2="264.5" stroke="#555" stroke-width="1" stroke-dasharray="1 1"/>
<line x1="700" y1="296.5" x2="1309" y2="296.5" stroke="#555" stroke-width="1" stroke-dasharray="1 1"/>
<line x1="700" y1="343.5" x2="1309" y2="343.5" stroke="#555" stroke-width="1" stroke-dasharray="1 1"/>
<line x1="700.5" y1="296" x2="700.5" y2="344" stroke="#555" stroke-width="1" stroke-dasharray="1 1"/>
<line x1="1308.5" y1="296" x2="1308.5" y2="344" stroke="#555" stroke-width="1" stroke-dasharray="1 1"/>
<line x1="703" y1="516.5" x2="1312" y2="516.5" stroke="#555" stroke-width="1" stroke-dasharray="1 1"/>
</svg>
</div></body></html>
